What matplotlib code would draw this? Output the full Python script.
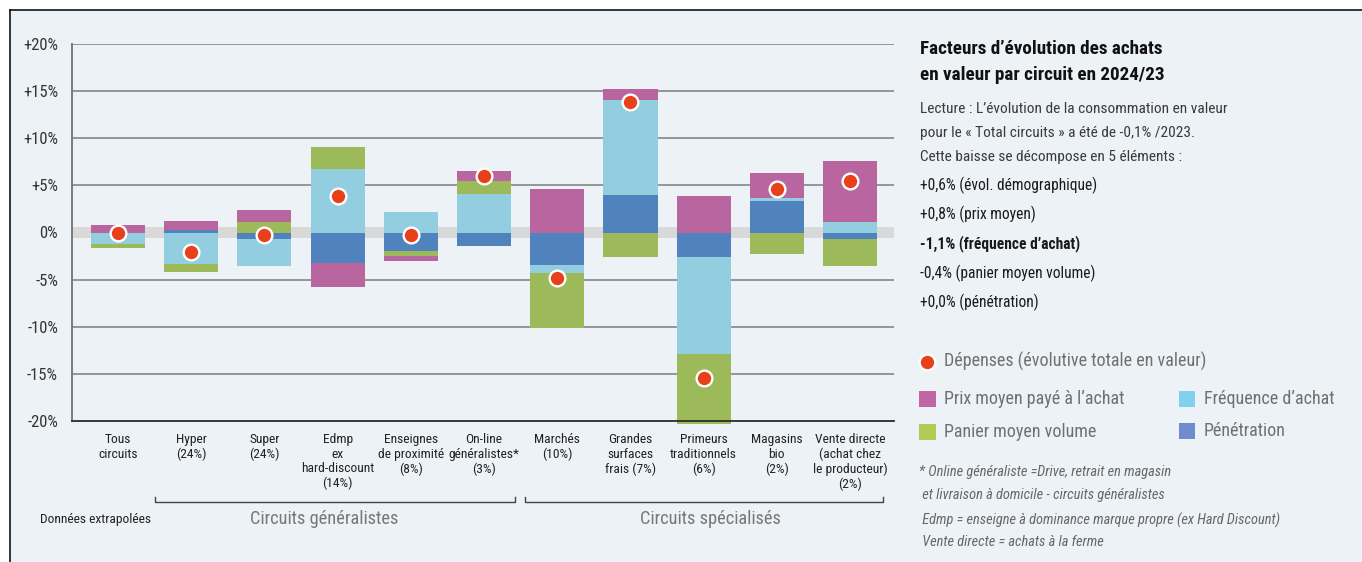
import matplotlib
matplotlib.use("Agg")
import matplotlib.pyplot as plt
from matplotlib import font_manager
from matplotlib.patches import Rectangle
from matplotlib.lines import Line2D
import matplotlib.transforms as mtransforms
import numpy as np

# ---------------- data ----------------
categories = ['Tous\ncircuits', 'Hyper\n(24%)', 'Super\n(24%)',
              'Edmp\nex\nhard-discount\n(14%)', 'Enseignes\nde proximité\n(8%)',
              'On-line\ngénéralistes*\n(3%)', 'Marchés\n(10%)',
              'Grandes\nsurfaces\nfrais (7%)', 'Primeurs\ntraditionnels\n(6%)',
              'Magasins\nbio\n(2%)', 'Vente directe\n(achat chez\nle producteur)\n(2%)']
prix        = [0.8, 0.9, 1.3, -2.6, -0.5, 1.0, 4.6, 1.2, 3.9, 2.6, 6.5]
frequence   = [-1.2, -3.4, -2.9, 6.7, 2.2, 4.1, -0.8, 10.1, -10.3, 0.3, 1.1]
panier      = [-0.4, -0.8, 1.1, 2.4, -0.5, 1.4, -5.8, -2.6, -7.5, -2.3, -2.9]
penetration = [0.0, 0.3, -0.7, -3.2, -2.0, -1.4, -3.5, 4.0, -2.6, 3.4, -0.7]
depenses    = [-0.1, -2.1, -0.3, 3.9, -0.3, 6.0, -4.8, 13.9, -15.5, 4.6, 5.5]
yticks = [20, 15, 10, 5, 0, -5, -10, -15, -20]
ytick_labels = ['+20%', '+15%', '+10%', '+5%', '0%', '-5%', '-10%', '-15%', '-20%']

col_prix = '#b966a0'
col_freq = '#93cde0'
col_panier = '#9dba5a'
col_pen = '#5082be'
col_dot = '#e8401a'
leg_prix = '#c066a5'
leg_freq = '#80d0f0'
leg_panier = '#b0cc55'
leg_pen = '#708ccc'
bg = '#edf2f6'

# ---------------- fonts ----------------
names = {f.name for f in font_manager.fontManager.ttflist}
fam = None
for cand in ['Liberation Sans Narrow', 'Roboto Condensed', 'Roboto', 'Liberation Sans']:
    if cand in names:
        fam = cand
        break
if fam is None:
    fam = 'DejaVu Sans'
plt.rcParams['font.family'] = [fam, 'DejaVu Sans']

W, H = 1362, 562
fig = plt.figure(figsize=(W / 100, H / 100), dpi=100)
fig.patch.set_facecolor('white')

def fx(x):
    return x / W

def fy(y):
    return 1 - y / H

# background panel + border
fig.patches.append(Rectangle((fx(10), 0), 1 - fx(10), fy(10), transform=fig.transFigure,
                             facecolor=bg, edgecolor='none', zorder=-10))
fig.lines.append(Line2D([fx(10), 1], [fy(10), fy(10)], transform=fig.transFigure,
                        color='black', lw=1.1))
fig.lines.append(Line2D([fx(10), fx(10)], [fy(10), 0], transform=fig.transFigure,
                        color='black', lw=1.1))

# ---------------- axes ----------------
ax_l, ax_r, ax_t, ax_b = 72, 894, 44.3, 420.7
ax = fig.add_axes([fx(ax_l), fy(ax_b), fx(ax_r - ax_l), (ax_b - ax_t) / H])
ax.set_facecolor('none')
n = len(categories)
x = np.arange(n)
ax.set_xlim(-0.628, n - 1 + 0.6)
ax.set_ylim(-20, 20)

for v in yticks:
    if v in (0, -20):
        continue
    ax.axhline(v, color='#858585', lw=1.2, zorder=0)
ax.axhspan(-0.55, 0.55, color='#d9d9d9', lw=0, zorder=0.5)

for s in ['top', 'right']:
    ax.spines[s].set_visible(False)
ax.spines['left'].set_color('#7a7a7a')
ax.spines['left'].set_linewidth(1.4)
ax.spines['bottom'].set_color('#2a2a2a')
ax.spines['bottom'].set_linewidth(1.3)
ax.spines['bottom'].set_zorder(5)

width = 0.74
order = [(penetration, col_pen), (frequence, col_freq), (panier, col_panier), (prix, col_prix)]
pos_base = np.zeros(n)
neg_base = np.zeros(n)
for vals, c in order:
    v = np.array(vals, dtype=float)
    pos = np.where(v > 0, v, 0)
    neg = np.where(v < 0, v, 0)
    ax.bar(x, pos, width, bottom=pos_base, color=c, lw=0, zorder=2, clip_on=False)
    ax.bar(x, neg, width, bottom=neg_base, color=c, lw=0, zorder=2, clip_on=False)
    pos_base += pos
    neg_base += neg

ax.plot(x, depenses, 'o', ms=11.3, mfc=col_dot, mec='white', mew=1.7, zorder=6, clip_on=False)

ax.set_yticks(yticks)
ax.set_yticklabels(ytick_labels, fontsize=12, color='#333333')
ax.tick_params(axis='y', length=0, pad=10)
ax.set_xticks(x)
ax.set_xticklabels(categories, fontsize=9.7, color='#222222', linespacing=1.15)
ax.tick_params(axis='x', length=0, pad=9)

# brackets
trans = mtransforms.blended_transform_factory(ax.transData, fig.transFigure)
for (x0, x1) in [(0.5, 5.42), (5.56, 10.45)]:
    ax.add_line(Line2D([x0, x0, x1, x1], [fy(496.5), fy(501.5), fy(501.5), fy(496.5)],
                       transform=trans, color='#444444', lw=1.0, clip_on=False))
fig.text(fx(324), fy(519), 'Circuits généralistes', fontsize=13.2, color='#777777',
         ha='center', va='center')
fig.text(fx(710), fy(519), 'Circuits spécialisés', fontsize=13.2, color='#777777',
         ha='center', va='center')
fig.text(fx(40), fy(520), 'Données extrapolées', fontsize=9.7, color='#222222',
         ha='left', va='center')

# ---------------- right panel ----------------
tx = 920
fig.text(fx(tx), fy(49), 'Facteurs d’évolution des achats', fontsize=13.8, weight='bold',
         color='#111111', va='center')
fig.text(fx(tx), fy(75.5), 'en valeur par circuit en 2024/23', fontsize=13.8, weight='bold',
         color='#111111', va='center')
lecture = ['Lecture : L’évolution de la consommation en valeur',
           'pour le « Total circuits » a été de -0,1% /2023.',
           'Cette baisse se décompose en 5 éléments :']
for t, yy in zip(lecture, [109, 132.7, 156.7]):
    fig.text(fx(tx), fy(yy), t, fontsize=11.1, color='#3a3a3a', va='center')
items = ['+0,6% (évol. démographique)', '+0,8% (prix moyen)', '-1,1% (fréquence d’achat)',
         '-0,4% (panier moyen volume)', '+0,0% (pénétration)']
for t, yy in zip(items, [185, 214, 243.3, 273.3, 302.7]):
    fig.text(fx(tx), fy(yy), t, fontsize=11.2, color='#1a1a1a', va='center',
             weight='bold' if 'fréquence' in t else 'normal')

# legend
fig.lines.append(Line2D([fx(927)], [fy(361.7)], transform=fig.transFigure, marker='o',
                        ms=11.3, mfc=col_dot, mec='white', mew=1.7, ls='none'))
fig.text(fx(944), fy(361.7), 'Dépenses (évolutive totale en valeur)', fontsize=13,
         color='#707070', va='center')
legs = [(919, 390.7, leg_prix, 'Prix moyen payé à l’achat', 399.3),
        (1178.5, 390.7, leg_freq, 'Fréquence d’achat', 399.3),
        (919, 424.3, leg_panier, 'Panier moyen volume', 431.7),
        (1178.5, 422.5, leg_pen, 'Pénétration', 430.7)]
for (lx, ly, c, t, ty) in legs:
    fig.patches.append(Rectangle((fx(lx), fy(ly + 16)), fx(16.5), 16 / H,
                                 transform=fig.transFigure, facecolor=c, edgecolor='none'))
    fig.text(fx(lx + 25), fy(ty), t, fontsize=13, color='#707070', va='center')

notes = ['* Online généraliste =Drive, retrait en magasin',
         ' et livraison à domicile - circuits généralistes',
         ' Edmp = enseigne à dominance marque propre (ex Hard Discount)',
         ' Vente directe = achats à la ferme']
for t, yy in zip(notes, [471.7, 495, 520, 541.7]):
    fig.text(fx(919), fy(yy), t, fontsize=10.4, color='#666666', style='italic', va='center')

fig.savefig('out.png', dpi=100, facecolor=fig.get_facecolor())
